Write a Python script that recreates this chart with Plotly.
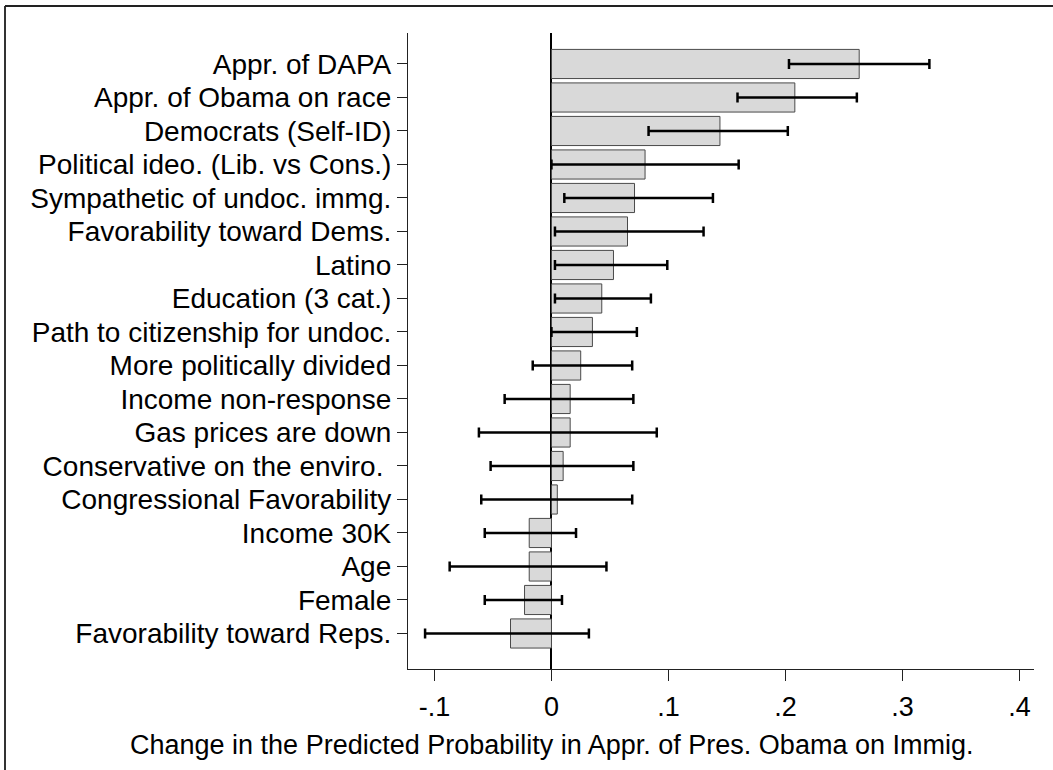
import plotly.graph_objects as go

# Predictors, listed top to bottom
labels = [
    "Appr. of DAPA",
    "Appr. of Obama on race",
    "Democrats (Self-ID)",
    "Political ideo. (Lib. vs Cons.)",
    "Sympathetic of undoc. immg.",
    "Favorability toward Dems.",
    "Latino",
    "Education (3 cat.)",
    "Path to citizenship for undoc.",
    "More politically divided",
    "Income non-response",
    "Gas prices are down",
    "Conservative on the enviro. ",
    "Congressional Favorability",
    "Income 30K",
    "Age",
    "Female",
    "Favorability toward Reps.",
]

# Change in predicted probability and its confidence interval
effect = [0.263, 0.208, 0.144, 0.080, 0.071, 0.065, 0.053, 0.043, 0.035, 0.025,
          0.016, 0.016, 0.010, 0.005, -0.019, -0.019, -0.023, -0.035]
ci_low = [0.203, 0.159, 0.083, 0.000, 0.011, 0.003, 0.003, 0.003, 0.000, -0.016,
          -0.040, -0.062, -0.052, -0.060, -0.057, -0.087, -0.057, -0.108]
ci_high = [0.323, 0.261, 0.202, 0.160, 0.138, 0.130, 0.099, 0.085, 0.073, 0.069,
           0.070, 0.090, 0.070, 0.069, 0.021, 0.047, 0.009, 0.032]

tick_vals = [-0.1, 0, 0.1, 0.2, 0.3, 0.4]
tick_text = ["-.1", "0", ".1", ".2", ".3", ".4"]

x_title = "Change in the Predicted Probability in Appr. of Pres. Obama on Immig."

FONT = "Liberation Sans, Arial, sans-serif"

# plot from bottom to top so the first label sits at the top
lab_r = labels[::-1]
eff_r = effect[::-1]
lo_r = ci_low[::-1]
hi_r = ci_high[::-1]

fig = go.Figure()
fig.add_trace(go.Bar(
    y=lab_r,
    x=eff_r,
    orientation="h",
    width=0.87,
    marker=dict(color="#d9d9d9", line=dict(color="#4a4a4a", width=1)),
    error_x=dict(
        type="data",
        symmetric=False,
        array=[h - e for h, e in zip(hi_r, eff_r)],
        arrayminus=[e - l for e, l in zip(eff_r, lo_r)],
        color="black",
        thickness=2.5,
        width=5,
    ),
    showlegend=False,
))

W, H = 1053, 770
ML, MR, MT, MB = 408, 19, 33, 101
pw, ph = W - ML - MR, H - MT - MB

fig.update_layout(
    width=W,
    height=H,
    margin=dict(l=ML, r=MR, t=MT, b=MB, pad=0),
    paper_bgcolor="white",
    plot_bgcolor="white",
    font=dict(family=FONT, size=27, color="black"),
    xaxis=dict(
        range=[-0.1226, 0.4124],
        tickmode="array",
        tickvals=tick_vals,
        ticktext=tick_text,
        ticks="outside",
        ticklen=11,
        tickwidth=1.3,
        tickcolor="#222",
        showline=True,
        linecolor="#222",
        linewidth=1.3,
        showgrid=False,
        zeroline=True,
        zerolinecolor="black",
        zerolinewidth=2,
        tickfont=dict(size=27),
        ticklabelstandoff=2,
    ),
    yaxis=dict(
        type="category",
        categoryorder="array",
        categoryarray=lab_r,
        tickmode="array",
        tickvals=lab_r,
        ticktext=lab_r,
        range=[-1.06, 17.925],
        ticks="outside",
        ticklen=10,
        tickwidth=1.3,
        tickcolor="#222",
        showline=True,
        linecolor="#222",
        linewidth=1.3,
        showgrid=False,
        zeroline=False,
        tickfont=dict(size=28),
        ticklabelstandoff=0,
    ),
)

# x-axis title, centred under the whole graph
fig.add_annotation(
    text=x_title,
    xref="paper", yref="paper",
    x=(551 - ML) / pw, y=-(745 - (MT + ph)) / ph,
    xanchor="center", yanchor="middle",
    showarrow=False,
    font=dict(size=27, family=FONT, color="black"),
)

# outer graph frame (top and left edges visible)
fx = (5 - ML) / pw
fy = (MT + ph - 6) / ph
fig.add_shape(type="line", xref="paper", yref="paper",
              x0=fx, x1=fx, y0=-0.3, y1=fy,
              line=dict(color="#333", width=2))
fig.add_shape(type="line", xref="paper", yref="paper",
              x0=fx, x1=1.2, y0=fy, y1=fy,
              line=dict(color="#222", width=2))

fig.write_html("out.html")
